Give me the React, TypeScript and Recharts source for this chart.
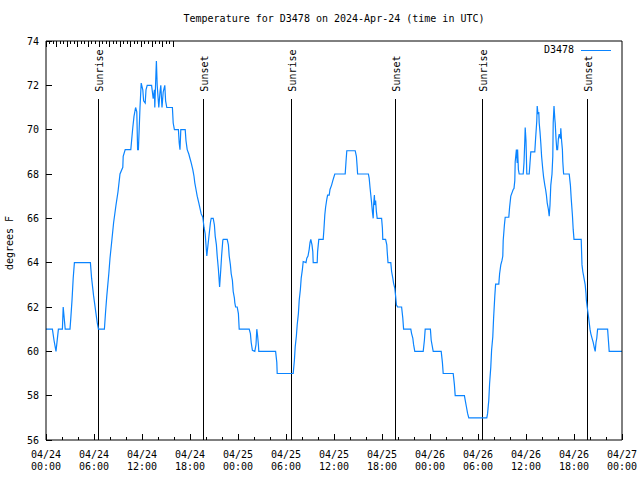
import {
  Legend,
  Line,
  LineChart,
  ReferenceLine,
  XAxis,
  YAxis,
} from "recharts";

// hours since 2024-04-24 00:00 UTC
const hours = [
  0, 0.8, 1.0, 1.25, 1.55, 2.05, 2.15, 2.4, 3.0, 3.1, 3.25, 3.4, 3.55, 5.55,
  5.7, 5.95, 6.25, 6.4, 6.55, 7.3, 7.45, 7.6, 7.85, 8.0, 8.2, 8.45, 8.75, 9.0,
  9.25, 9.6, 9.65, 9.9, 10.6, 10.75, 10.85, 11.0, 11.2, 11.35, 11.45, 11.55,
  11.75, 11.9, 12.1, 12.2, 12.4, 12.5, 12.65, 13.2, 13.4, 13.55, 13.6, 13.75,
  13.8, 13.9, 14.1, 14.25, 14.35, 14.5, 14.65, 14.85, 14.95, 15.1, 15.8, 15.9,
  16.05, 16.55, 16.65, 16.75, 16.85, 17.4, 17.5, 17.65, 17.85, 18.0, 18.15,
  18.35, 18.5, 18.6, 18.75, 18.9, 19.1, 19.4, 19.6, 19.75, 19.9, 20.0, 20.1,
  20.25, 20.4, 20.55, 20.65, 20.9, 21.05, 21.15, 21.3, 21.4, 21.55, 21.7,
  21.85, 21.95, 22.1, 22.15, 22.65, 22.8, 22.9, 23.05, 23.15, 23.3, 23.4,
  23.55, 23.6, 23.7, 23.9, 24.05, 24.15, 25.4, 25.55, 25.65, 25.8, 26.1,
  26.25, 26.35, 26.45, 26.55, 26.6, 28.7, 28.85, 28.9, 30.9, 31.05, 31.15,
  31.3, 31.4, 31.55, 31.65, 31.8, 31.9, 32.05, 32.15, 32.5, 32.6, 32.75, 32.9,
  33.0, 33.1, 33.25, 33.35, 33.4, 33.9, 33.95, 34.1, 34.65, 34.75, 34.85,
  34.95, 35.1, 35.2, 35.4, 35.5, 35.7, 35.85, 36.1, 37.4, 37.5, 37.6, 38.65,
  38.8, 38.9, 38.95, 40.3, 40.4, 40.5, 40.6, 40.7, 40.8, 40.9, 40.95, 41.05,
  41.1, 41.2, 41.3, 41.4, 41.95, 42.05, 42.1, 42.45, 42.6, 42.65, 42.75, 43.1,
  43.2, 43.35, 43.45, 43.6, 43.7, 43.8, 43.95, 44.45, 44.6, 44.7, 45.6, 45.7,
  45.85, 45.95, 46.1, 47.15, 47.3, 47.4, 48.05, 48.15, 48.4, 49.4, 49.55,
  49.65, 50.9, 51.05, 51.15, 52.3, 52.4, 52.55, 52.7, 52.85, 55.1, 55.2,
  55.35, 55.45, 55.6, 55.7, 55.85, 55.95, 56.1, 56.2, 56.6, 56.7, 56.85, 57.0,
  57.1, 57.15, 57.3, 57.4, 57.85, 57.95, 58.1, 58.4, 58.5, 58.6, 58.65, 58.8,
  58.9, 58.95, 59.05, 59.15, 59.65, 59.75, 59.85, 59.9, 60.0, 60.1, 60.4,
  60.5, 60.6, 61.1, 61.2, 61.35, 61.4, 61.5, 61.6, 61.65, 61.75, 61.85, 61.95,
  62.1, 62.2, 62.35, 62.45, 62.55, 62.65, 62.8, 62.9, 63.0, 63.1, 63.25,
  63.35, 63.4, 63.5, 63.6, 63.65, 63.75, 63.85, 63.95, 64.05, 64.15, 64.3,
  64.35, 64.45, 64.55, 64.6, 64.7, 65.4, 65.55, 65.65, 65.8, 65.9, 66.0, 66.9,
  67.0, 67.1, 67.25, 67.4, 67.5, 67.55, 67.65, 67.8, 67.9, 68.0, 68.1, 68.25,
  68.4, 68.55, 68.65, 68.75, 68.85, 68.95, 70.2, 70.3, 70.4, 72.0,
];

// degrees F
const temps = [
  61, 61, 60.5, 60, 61, 61, 62, 61, 61, 61.5, 62.3, 63.3, 64, 64,
  63.3, 62.5, 61.7, 61.3, 61, 61, 61.8, 62.5, 63.5, 64.2, 64.9, 65.8, 66.6, 67.2,
  68.0, 68.3, 68.8, 69.1, 69.1, 69.7, 70.1, 70.6, 71.0, 70.8, 69.1, 69.1,
  71.0, 72.1, 71.8, 71.3, 71.2, 71.8, 72, 72, 71.4, 71.8, 71.0, 72.6,
  73.1, 72, 71, 71.7, 72, 71, 71.7, 72, 71.3, 71, 71, 70.3,
  70, 70, 69.4, 69.1, 70, 70, 69.5, 69.1, 68.9, 68.7, 68.5,
  68.2, 67.9, 67.6, 67.3, 67.0, 66.7, 66.2, 66.05, 65.6, 65.3, 64.8, 64.3,
  64.8, 65.3, 65.8, 66, 66, 65.7, 65.2, 64.8, 64.3, 63.7, 62.9,
  63.7, 64.3, 65, 65.05, 65.05, 64.8, 64.3, 63.9, 63.5, 63.2, 62.7,
  62.4, 62.2, 62.0, 62.0, 61.7, 61.0, 61.0, 60.8, 60.4, 60.05, 60,
  60.3, 61, 60.7, 60.3, 60, 60, 59.5, 59, 59, 59.6, 60.2,
  60.7, 61.2, 61.7, 62.3, 62.8, 63.3, 63.7, 64.05, 64, 64.2, 64.3, 64.6,
  64.9, 65.05, 64.8, 64.5, 64, 64, 64.5, 65.05, 65.05, 65.55, 66.15,
  66.5, 66.86, 67.05, 67.05, 67.3, 67.5, 67.7, 68, 68, 68.55, 69.05, 69.05,
  68.8, 68.3, 68, 68, 67.8, 67.4, 67.05, 66.7, 66.3, 66, 66.6, 67.05,
  66.6, 66.8, 66.3, 66, 66, 65.55, 65.05, 65.05, 64.8, 64.5, 64, 64,
  63.6, 63.3, 63.07, 62.85, 62.5, 62.1, 62.0, 62.0, 61.5, 61.0, 61, 60.8,
  60.6, 60.3, 60, 60, 60.5, 61, 61, 60.5, 60, 60, 59.5,
  59, 59, 58.5, 58, 58, 57.8, 57.5, 57.2, 57, 57, 57.2,
  57.8, 58.55, 59.3, 60.06, 60.66, 61.5, 62.5, 63.03, 63.03, 63.5, 63.9, 64.1,
  64.3, 65, 65.7, 66.05, 66.05, 66.5, 67, 67.3, 67.35, 67.7, 68.55, 69.1,
  68.5, 69.1, 68.2, 68, 68, 68.5, 69.5, 70.1, 69.5, 68, 68,
  68.5, 69, 69, 69.6, 70.4, 71.07, 70.7, 70.8, 70.3, 69.9, 69.4, 68.8,
  68.2, 67.86, 67.5, 67.3, 67.05, 66.7, 66.4, 66.1, 66.6, 67.5, 68,
  68.8, 70.3, 71.07, 70.5, 70.3, 69.6, 69.1, 69.1, 69.6, 69.8, 69.6,
  70.06, 69.5, 69.1, 68.55, 68, 68, 67.5, 66.9, 66.15, 65.5, 65.05, 65.05,
  63.9, 63.6, 63.3, 63.0, 62.6, 62.3, 62.0, 61.6, 61.3, 61, 60.8, 60.6,
  60.4, 60.15, 60, 60.4, 60.6, 61, 61, 60.5, 60, 60,
];

const sunHours = [6.5, 19.625, 30.625, 43.625, 54.5, 67.625];
const sunLabels = ["Sunrise", "Sunset", "Sunrise", "Sunset", "Sunrise", "Sunset"];
const sunLineTop = 71.4;

const xTicks = Array.from({ length: 37 }, (_, i) => i * 2);
const xMajorLabels: Record<number, [string, string]> = {
  0: ["04/24", "00:00"],
  6: ["04/24", "06:00"],
  12: ["04/24", "12:00"],
  18: ["04/24", "18:00"],
  24: ["04/25", "00:00"],
  30: ["04/25", "06:00"],
  36: ["04/25", "12:00"],
  42: ["04/25", "18:00"],
  48: ["04/26", "00:00"],
  54: ["04/26", "06:00"],
  60: ["04/26", "12:00"],
  66: ["04/26", "18:00"],
  72: ["04/27", "00:00"],
};
const yTicks = [56, 58, 60, 62, 64, 66, 68, 70, 72, 74];

const seriesName = "D3478";
const title = "Temperature for D3478 on 2024-Apr-24 (time in UTC)";
const lineColor = "#0a84ff";
const FONT = "'DejaVu Sans Mono', monospace";

const data = hours.map((h, i) => ({ h, temp: temps[i] }));

const BottomTick = (props: any) => {
  const { x, y, payload } = props;
  const lbl = xMajorLabels[payload.value];
  const len = lbl ? 6 : 3;
  return (
    <g>
      <line x1={x} y1={y} x2={x} y2={y - len} stroke="#000" shapeRendering="crispEdges" />
      {lbl && (
        <text x={x} textAnchor="middle" fontFamily={FONT} fontSize={10} fill="#000">
          <tspan x={x} y={y + 18}>{lbl[0]}</tspan>
          <tspan x={x} y={y + 30}>{lbl[1]}</tspan>
        </text>
      )}
    </g>
  );
};

const TopTick = (props: any) => {
  const { x, y, payload } = props;
  const len = xMajorLabels[payload.value] ? 6 : 3;
  return <line x1={x} y1={y} x2={x} y2={y + len} stroke="#000" shapeRendering="crispEdges" />;
};

const LeftTick = (props: any) => {
  const { x, y, payload } = props;
  return (
    <g>
      <line x1={x} y1={y} x2={x + 6} y2={y} stroke="#000" shapeRendering="crispEdges" />
      <text x={x - 7} y={y} dy="0.35em" textAnchor="end" fontFamily={FONT} fontSize={10} fill="#000">
        {payload.value}
      </text>
    </g>
  );
};

const RightTick = (props: any) => {
  const { x, y } = props;
  return <line x1={x} y1={y} x2={x - 6} y2={y} stroke="#000" shapeRendering="crispEdges" />;
};

const sunLabel = (text: string) => (props: any) => {
  const { viewBox } = props;
  const tx = viewBox.x + 5;
  const ty = viewBox.y - 7;
  return (
    <text
      x={tx}
      y={ty}
      transform={`rotate(-90 ${tx} ${ty})`}
      fontFamily={FONT}
      fontSize={10}
      fill="#000"
    >
      {text}
    </text>
  );
};

const renderLegend = () => (
  <div style={{ display: "flex", alignItems: "center", fontFamily: FONT, fontSize: 10, lineHeight: "14px" }}>
    <span>{seriesName}</span>
    <svg width={37} height={14}>
      <line x1={7} y1={7} x2={37} y2={7} stroke={lineColor} shapeRendering="crispEdges" />
    </svg>
  </div>
);

export default function App() {
  return (
    <div style={{ position: "absolute", left: 0, top: 0, width: 640, height: 480, background: "#fff" }}>
      <div
        style={{
          position: "absolute",
          left: 46,
          top: 12,
          width: 576,
          textAlign: "center",
          fontFamily: FONT,
          fontSize: 10,
          lineHeight: "14px",
        }}
      >
        {title}
      </div>
      <div
        style={{
          position: "absolute",
          left: -40,
          top: 236,
          width: 100,
          height: 14,
          lineHeight: "14px",
          textAlign: "center",
          fontFamily: FONT,
          fontSize: 10,
          transform: "rotate(-90deg)",
        }}
      >
        degrees F
      </div>
      <LineChart width={640} height={480} data={data} margin={{ top: 0, right: 0, bottom: 0, left: 0 }}>
        <XAxis
          xAxisId="bottom"
          dataKey="h"
          type="number"
          domain={[0, 72]}
          ticks={xTicks}
          interval={0}
          height={40}
          stroke="#000"
          tickLine={false}
          tickSize={0}
          tickMargin={0}
          tick={BottomTick}
        />
        <XAxis
          xAxisId="top"
          orientation="top"
          type="number"
          domain={[0, 72]}
          ticks={xTicks}
          interval={0}
          height={41}
          stroke="#000"
          tickLine={false}
          tickSize={0}
          tickMargin={0}
          tick={TopTick}
        />
        <YAxis
          yAxisId="left"
          type="number"
          domain={[56, 74]}
          ticks={yTicks}
          interval={0}
          width={46}
          stroke="#000"
          tickLine={false}
          tickSize={0}
          tickMargin={0}
          tick={LeftTick}
        />
        <YAxis
          yAxisId="right"
          orientation="right"
          type="number"
          domain={[56, 74]}
          ticks={yTicks}
          interval={0}
          width={18}
          stroke="#000"
          tickLine={false}
          tickSize={0}
          tickMargin={0}
          tick={RightTick}
        />
        <Legend
          layout="vertical"
          align="center"
          verticalAlign="middle"
          content={renderLegend}
          wrapperStyle={{ left: 544, top: 43, width: 80, height: 14 }}
        />
        {sunHours.map((h, i) => (
          <ReferenceLine
            key={i}
            xAxisId="bottom"
            yAxisId="left"
            segment={[
              { x: h, y: 56 },
              { x: h, y: sunLineTop },
            ]}
            stroke="#000"
            strokeWidth={1}
            shapeRendering="crispEdges"
            label={sunLabel(sunLabels[i])}
          />
        ))}
        <Line
          xAxisId="bottom"
          yAxisId="left"
          type="linear"
          dataKey="temp"
          name={seriesName}
          stroke={lineColor}
          strokeWidth={1.2}
          dot={false}
          isAnimationActive={false}
        />
      </LineChart>
    </div>
  );
}
